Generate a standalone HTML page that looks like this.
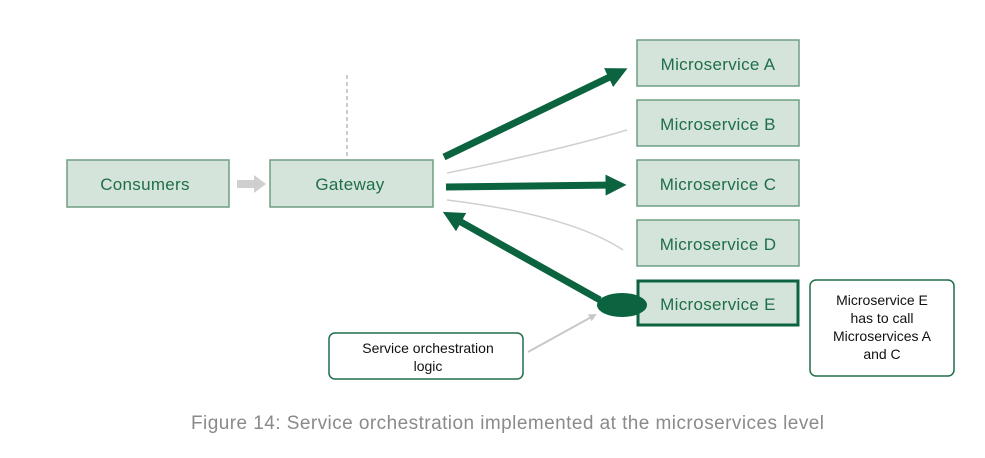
<!DOCTYPE html>
<html><head><meta charset="utf-8"><style>
body{margin:0;background:#fff;}
svg{display:block;font-family:"Liberation Sans",sans-serif;}
</style></head><body>
<svg width="985" height="458" xmlns="http://www.w3.org/2000/svg">
<defs>
<marker id="ah" markerWidth="3" markerHeight="3" refX="1.5" refY="1.5" orient="auto" markerUnits="strokeWidth"><path d="M0,0 L3,1.5 L0,3 z" fill="#0b6340"/></marker>
<marker id="ga" markerWidth="8" markerHeight="8" refX="6" refY="4" orient="auto" markerUnits="userSpaceOnUse"><path d="M0,0 L8,4 L0,8 z" fill="#c8c8c8"/></marker>
</defs>
<g fill="#d4e4da" stroke="#6f9e82" stroke-width="1.5">
<rect x="67" y="160" width="162" height="47"/>
<rect x="270" y="160" width="163" height="47"/>
<rect x="637" y="40" width="162" height="46"/>
<rect x="637" y="100" width="162" height="46"/>
<rect x="637" y="160" width="162" height="46"/>
<rect x="637" y="220" width="162" height="46"/>
</g>
<rect x="638" y="281" width="160" height="44" fill="#d4e4da" stroke="#0b6340" stroke-width="3"/>
<line x1="347" y1="75" x2="347" y2="160" stroke="#999" stroke-dasharray="4,3"/>
<path d="M237,184 H256" stroke="#cfcfcf" stroke-width="8"/><path d="M254,175 L266,184 L254,193 z" fill="#cfcfcf"/>
<path d="M447,173 Q560,150 627,130" fill="none" stroke="#d0d0d0" stroke-width="1.5"/>
<path d="M447,200 Q570,215 623,250" fill="none" stroke="#d0d0d0" stroke-width="1.5"/>
<line x1="444" y1="157" x2="618" y2="73" stroke="#0b6340" stroke-width="7" marker-end="url(#ah)"/>
<line x1="446" y1="187" x2="616" y2="185" stroke="#0b6340" stroke-width="7" marker-end="url(#ah)"/>
<line x1="600" y1="300" x2="452" y2="217" stroke="#0b6340" stroke-width="7" marker-end="url(#ah)"/>
<ellipse cx="622" cy="305" rx="25" ry="12" fill="#0b6340"/>
<line x1="528" y1="352" x2="595" y2="315" stroke="#c8c8c8" stroke-width="2" marker-end="url(#ga)"/>
<rect x="329" y="333" width="194" height="46" rx="6" fill="#fff" stroke="#1f6e48" stroke-width="1.5"/>
<rect x="810" y="280" width="144" height="96" rx="6" fill="#fff" stroke="#1f6e48" stroke-width="1.5"/>
<g fill="#1f6e48" font-size="17" text-anchor="middle" letter-spacing="0.3">
<text x="145" y="190">Consumers</text>
<text x="350" y="190">Gateway</text>
<text x="718" y="70">Microservice A</text>
<text x="718" y="130">Microservice B</text>
<text x="718" y="190">Microservice C</text>
<text x="718" y="250">Microservice D</text>
<text x="718" y="310">Microservice E</text>
</g>
<g fill="#111" font-size="14" text-anchor="middle">
<text x="428" y="353">Service orchestration</text>
<text x="428" y="371">logic</text>
<text x="882" y="305">Microservice E</text>
<text x="882" y="323">has to call</text>
<text x="882" y="341">Microservices A</text>
<text x="882" y="359">and C</text>
</g>
<text x="191" y="429" fill="#8a8a8a" font-size="19" textLength="633" lengthAdjust="spacing">Figure 14: Service orchestration implemented at the microservices level</text>
</svg>
</body></html>
